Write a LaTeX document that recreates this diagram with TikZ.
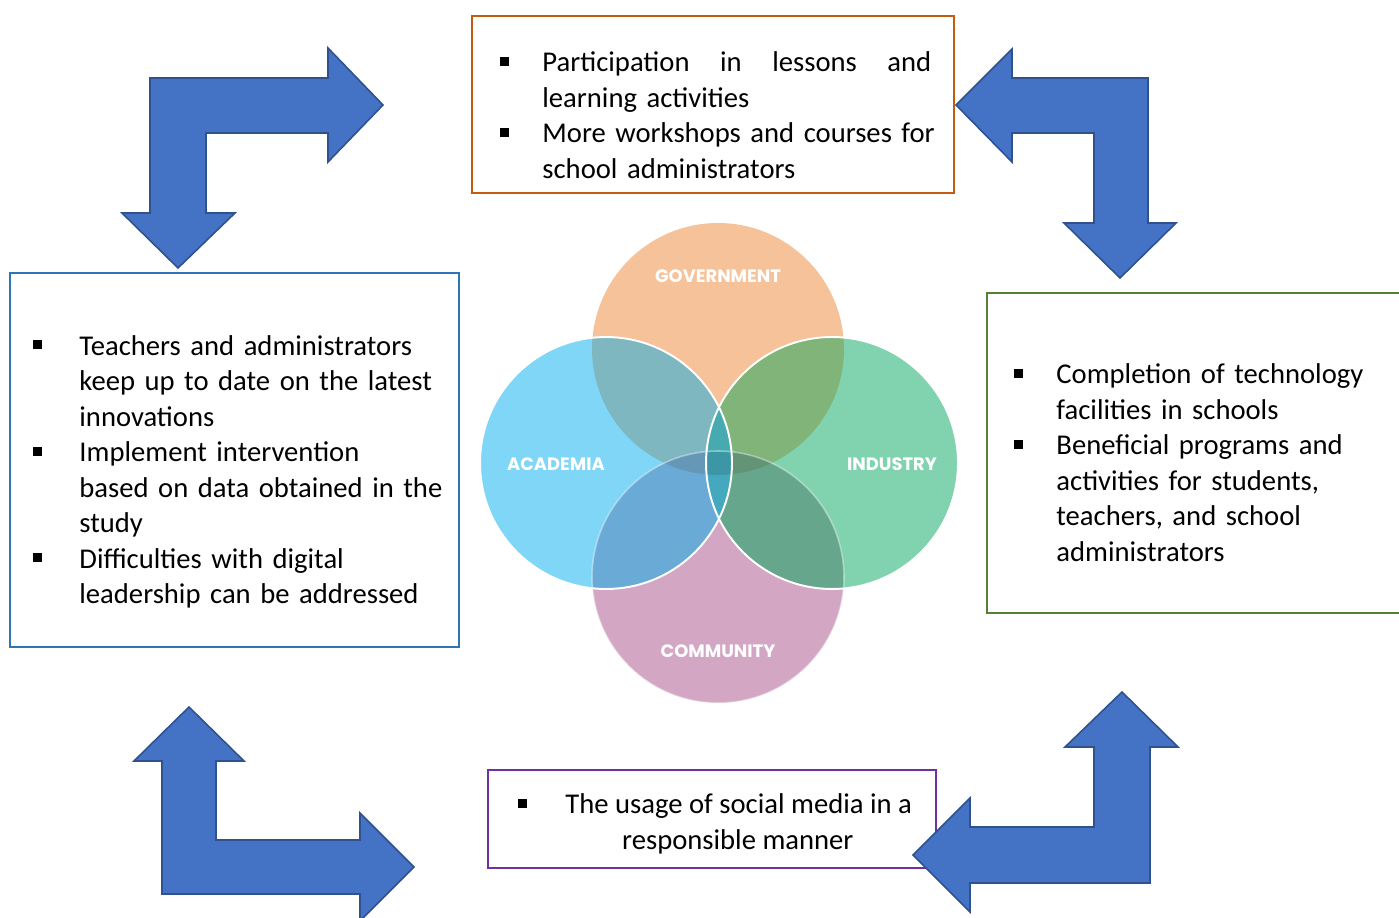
\documentclass[tikz,border=0pt]{standalone}
\usepackage{fontspec}
\setmainfont{Carlito}
\newfontfamily\vennfont{Poppins}
\usetikzlibrary{positioning}
\definecolor{flowblue}{RGB}{68,114,196}
\definecolor{flowedge}{RGB}{47,82,143}
\definecolor{boxblue}{RGB}{46,117,182}
\definecolor{boxorange}{RGB}{197,90,17}
\definecolor{boxgreen}{RGB}{84,130,53}
\definecolor{boxpurple}{RGB}{112,48,160}
\definecolor{gov}{RGB}{246,194,154}
\definecolor{acad}{RGB}{128,214,246}
\definecolor{indu}{RGB}{128,211,174}
\definecolor{comm}{RGB}{211,167,196}
\definecolor{govacad}{RGB}{127,183,192}
\definecolor{govindu}{RGB}{128,180,120}
\definecolor{commacad}{RGB}{106,170,214}
\definecolor{commindu}{RGB}{102,166,140}
\definecolor{midacad}{RGB}{100,152,182}
\definecolor{midindu}{RGB}{100,148,118}
\definecolor{lensgov}{RGB}{70,170,176}
\definecolor{lenscomm}{RGB}{68,168,190}
\definecolor{core}{RGB}{60,150,166}
\newcommand{\vennr}{2.52cm}
\newcommand{\sqitem}[1]{\par\noindent\hangindent=#1\hangafter=1%
  \makebox[#1][l]{\rule[3.4pt]{5pt}{5pt}}}
\tikzset{
  box/.style={draw=#1,line width=1.1pt,inner sep=0pt},
  bullets/.style={inner sep=0pt,text width=#1,align=left,
    font=\fontsize{16.3}{20.2}\selectfont},
  bullets/.default=9cm,
  bent/.style={fill=flowblue,draw=flowedge,line width=0.9pt},
  venn/.style={text=white,inner sep=0pt,font=\vennfont\bfseries\fontsize{10.2}{12}\selectfont},
}

\begin{document}
\begin{tikzpicture}[x=0.02cm,y=-0.02cm]
  \useasboundingbox (0,0) rectangle (1399,918);
  % four circles
  \coordinate (G) at (718,349);
  \coordinate (C) at (718,577);
  \coordinate (A) at (606,463);
  \coordinate (I) at (832,463);
  \foreach \p/\c in {G/gov,C/comm,A/acad,I/indu}
    \fill[\c] (\p) circle[radius=\vennr];
  \begin{scope}
    \clip (A) circle[radius=\vennr];
    \fill[govacad] (G) circle[radius=\vennr];
    \fill[commacad] (C) circle[radius=\vennr];
  \end{scope}
  \begin{scope}
    \clip (I) circle[radius=\vennr];
    \fill[govindu] (G) circle[radius=\vennr];
    \fill[commindu] (C) circle[radius=\vennr];
  \end{scope}
  \begin{scope}
    \clip (G) circle[radius=\vennr];
    \clip (C) circle[radius=\vennr];
    \fill[midacad] (A) circle[radius=\vennr];
    \fill[midindu] (I) circle[radius=\vennr];
  \end{scope}
  \begin{scope}
    \clip (A) circle[radius=\vennr];
    \clip (I) circle[radius=\vennr];
    \fill[lenscomm] (A) circle[radius=\vennr];
    \clip (G) circle[radius=\vennr];
    \fill[lensgov] (G) circle[radius=\vennr];
    \clip (C) circle[radius=\vennr];
    \fill[core] (C) circle[radius=\vennr];
  \end{scope}
  \draw[white,opacity=0.4,line width=0.9pt] (C) circle[radius=\vennr];
  \draw[white,line width=1.1pt] (A) circle[radius=\vennr] (I) circle[radius=\vennr];
  \node[venn] (govlabel) at (718,276) {GOVERNMENT};
  \node[venn] (acadlabel) at (556,464) {ACADEMIA};
  \node[venn] (indulabel) at (892,464) {INDUSTRY};
  \node[venn] (commlabel) at (718,651) {COMMUNITY};

  % boxes
  \node[box=boxorange,minimum width=9.64cm,minimum height=3.54cm] (topbox) at (713,104.5) {};
  \node[bullets,right=0.58cm of topbox.west,yshift=-0.06cm] (toptext) {%
    \sqitem{0.84cm}\makebox[7.78cm][l]{Participation\hfill in\hfill lessons\hfill and}\newline learning activities
    \sqitem{0.84cm}More workshops and courses for\newline school administrators\par};
  \node[box=boxblue,minimum width=8.98cm,minimum height=7.48cm] (leftbox) at (234.5,460) {};
  \node[bullets,right=0.48cm of leftbox.west,yshift=-0.08cm] (lefttext) {%
    \sqitem{0.92cm}Teachers and administrators\newline keep up to date on the latest\newline innovations
    \sqitem{0.92cm}Implement intervention\newline based on data obtained in the\newline study
    \sqitem{0.92cm}Difficulties with digital\newline leadership can be addressed\par};
  \node[box=boxgreen,minimum width=8.48cm,minimum height=6.4cm] (rightbox) at (1199,453) {};
  \node[bullets,right=0.56cm of rightbox.west,yshift=-0.04cm] (righttext) {%
    \sqitem{0.84cm}Completion of technology\newline facilities in schools
    \sqitem{0.84cm}Beneficial programs and\newline activities for students,\newline teachers, and school\newline administrators\par};
  \node[box=boxpurple,minimum width=8.96cm,minimum height=1.96cm] (bottombox) at (712,819) {};
  \node[align=center,inner sep=0pt,font=\fontsize{16.3}{20.2}\selectfont]
    (bottomtext) at ([xshift=0.06cm,yshift=-0.1cm]bottombox.center)
    {\rule[3.4pt]{5pt}{5pt}\hspace{22pt}The usage of social media in a\\
     \hspace*{26pt}responsible manner};

  % bent arrows
  \filldraw[bent] (178,268) -- (235,213) -- (206,213) -- (206,133) -- (328,133) -- (328,162)
    -- (383,105) -- (328,48) -- (328,78) -- (150,78) -- (150,213) -- (122,213) -- cycle;
  \filldraw[bent] (1120,278) -- (1176,223) -- (1148,223) -- (1148,78) -- (1012,78) -- (1012,49)
    -- (956,105) -- (1012,162) -- (1012,133) -- (1094,133) -- (1094,223) -- (1064,223) -- cycle;
  \filldraw[bent] (189,707) -- (244,761) -- (216,761) -- (216,840) -- (360,840) -- (360,813)
    -- (414,867) -- (360,921) -- (360,894) -- (162,894) -- (162,761) -- (134,761) -- cycle;
  \filldraw[bent] (1122,692) -- (1178,747) -- (1150,747) -- (1150,883) -- (970,883) -- (970,912)
    -- (913,855) -- (970,798) -- (970,827) -- (1094,827) -- (1094,747) -- (1065,747) -- cycle;
\end{tikzpicture}
\end{document}
